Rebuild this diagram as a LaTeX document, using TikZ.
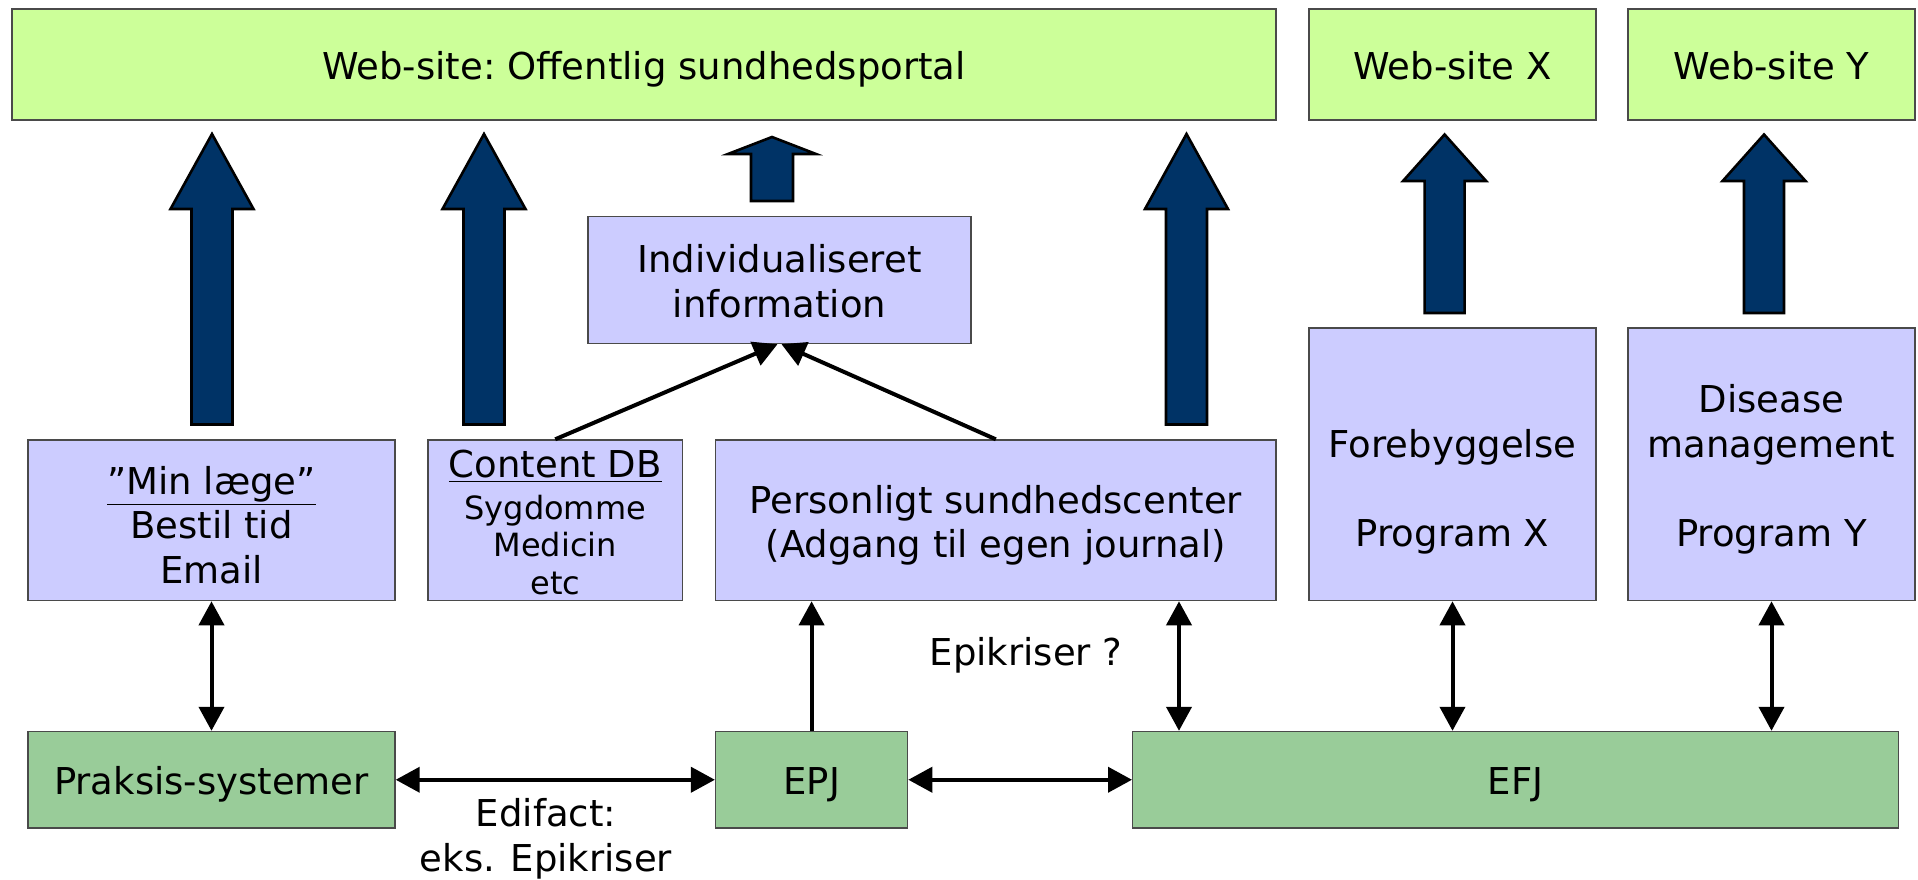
\documentclass[tikz,border=0pt]{standalone}
\usepackage{fontspec}
\setmainfont{DejaVu Sans}
\usetikzlibrary{arrows.meta}
\definecolor{webgreen}{HTML}{CCFF99}
\definecolor{boxlilac}{HTML}{CCCCFF}
\definecolor{sysgreen}{HTML}{99CC99}
\definecolor{navy}{HTML}{003366}
\definecolor{edge}{HTML}{4A4A4A}
\newcommand\blockarr[6]{% cx, top, base, bottom, head half, shaft half
  \draw[blockarrow] (#1,#2) -- ({#1+#5},#3) -- ({#1+#6},#3) -- ({#1+#6},#4)
    -- ({#1-#6},#4) -- ({#1-#6},#3) -- ({#1-#5},#3) -- cycle;}
\newcommand\toprule{\rule{0pt}{19.5pt}}
\newcommand\botrule{\rule[-4.5pt]{0pt}{0pt}}
\tikzset{
  box/.style={draw=edge, line width=0.7pt, inner sep=0pt, align=center,
    font=\fontsize{18.5}{22.3}\selectfont},
  web/.style={box, fill=webgreen},
  lilac/.style={box, fill=boxlilac},
  sys/.style={box, fill=sysgreen},
  blockarrow/.style={draw=black, fill=navy, line width=1.3pt, line join=miter},
  conn/.style={line width=2pt, -{Triangle[length=12pt,width=12.5pt]}},
  dconn/.style={line width=2pt, {Triangle[length=12pt,width=12.5pt]}-{Triangle[length=12pt,width=12.5pt]}},
  lbl/.style={align=center, inner sep=0pt, font=\fontsize{18.5}{22.3}\selectfont},
}
\begin{document}
\begin{tikzpicture}[x=0.5pt,y=-0.5pt]
\useasboundingbox (0,0) rectangle (1918,879);
% top web-sites
\node[web, minimum width=632pt, minimum height=55.5pt] (portal) at (644,64.5) {\toprule Web-site:\ Offentlig sundhedsportal\botrule};
\node[web, minimum width=143.5pt, minimum height=55.5pt] (webx) at (1452.5,64.5) {\toprule Web-site X\botrule};
\node[web, minimum width=143.5pt, minimum height=55.5pt] (weby) at (1771.5,64.5) {\toprule Web-site Y\botrule};
% middle boxes
\node[lilac, minimum width=191.5pt, minimum height=63.5pt] (indiv) at (779.5,280) {\toprule Individualiseret\\information\botrule};
\node[lilac, minimum width=183.5pt, minimum height=80.3pt] (minlaege) at (211.5,520.3) {\rule{0pt}{23pt}\smash{\underline{”Min læge”}}\\Bestil tid\\Email\botrule};
\node[lilac, minimum width=127.25pt, minimum height=80.3pt, font=\fontsize{16}{18.8}\selectfont] (contentdb) at (555.25,520.3)
  {\rule{0pt}{16pt}\smash{\fontsize{18.5}{22.3}\selectfont\underline{Content DB}}\\[2pt]Sygdomme\\Medicin\\etc};
\node[lilac, minimum width=280.2pt, minimum height=80.3pt] (personligt) at (995.8,520.3) {\toprule Personligt sundhedscenter\\(Adgang til egen journal)\botrule};
\node[lilac, minimum width=143.5pt, minimum height=136.3pt] (forebyg) at (1452.5,464.3) {\toprule~\\Forebyggelse\\~\\Program X\botrule};
\node[lilac, minimum width=143.5pt, minimum height=136.3pt] (disease) at (1771.5,464.3) {\toprule Disease\\management\\~\\Program Y\botrule};
% bottom systems
\node[sys, minimum width=183.5pt, minimum height=48.25pt] (praksis) at (211.5,779.75) {\toprule Praksis-systemer\botrule};
\node[sys, minimum width=96pt, minimum height=48.25pt] (epj) at (811.6,779.75) {\toprule EPJ\botrule};
\node[sys, minimum width=382.9pt, minimum height=48.25pt] (efj) at (1515.6,779.75) {\toprule EFJ\botrule};
% block arrows
\blockarr{212}{134}{209}{424.5}{41.5}{20.5}
\blockarr{484}{134}{209}{424.5}{41.5}{20.5}
\blockarr{1186.5}{134}{209}{424.5}{41.5}{20.5}
\blockarr{772}{137}{154}{201}{44}{21}
\blockarr{1444.6}{134.5}{181}{313}{41.5}{20}
\blockarr{1764}{134.5}{181}{313}{41.5}{20}
% connectors
\coordinate (efjin) at ([xshift=23.5pt]efj.north west);
\draw[conn] (contentdb.north) -- ([xshift=-1pt]indiv.south);
\draw[conn] (personligt.north) -- ([xshift=1pt]indiv.south);
\draw[dconn] (minlaege.south) -- (praksis.north);
\draw[conn] (epj.north) -- (epj.north |- personligt.south);
\draw[dconn] (efjin |- personligt.south) -- (efjin);
\draw[dconn] (forebyg.south) -- (forebyg.south |- efj.north);
\draw[dconn] (disease.south) -- (disease.south |- efj.north);
\draw[dconn] (praksis.east) -- (epj.west);
\draw[dconn] (epj.east) -- (efj.west);
% labels
\node[lbl] (edifact) at (546,839) {Edifact:\\eks. Epikriser};
\node[lbl] (epik) at (1026,655.5) {Epikriser ?};
\end{tikzpicture}
\end{document}
